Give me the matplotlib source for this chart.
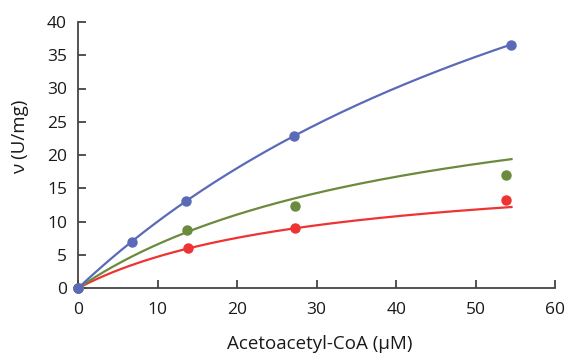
import numpy as np
import matplotlib
matplotlib.use("Agg")
import matplotlib.pyplot as plt

plt.rcParams['font.family'] = ['Open Sans', 'DejaVu Sans']

# measured points
blue_x = [0, 6.8, 13.6, 27.2, 54.4]
blue_y = [0, 7.0, 13.1, 22.9, 36.6]
green_x = [0, 13.7, 27.3, 53.8]
green_y = [0, 8.7, 12.3, 17.0]
red_x = [0, 13.8, 27.3, 53.8]
red_y = [0, 6.0, 9.0, 13.3]

# Michaelis-Menten fits (Vmax, Km)
blue_fit = (91.0, 80.9)
green_fit = (34.4, 42.2)
red_fit = (18.9, 30.0)
fit_xmax = 54.5

colors = {'blue': '#5a6ab8', 'green': '#6b8a3c', 'red': '#ee3333'}

fig = plt.figure(figsize=(5.66, 3.54), dpi=100)
ax = fig.add_axes([0.138, 0.186, 0.843, 0.752])

s = np.linspace(0, fit_xmax, 200)
for (vmax, km), (xs, ys), c in [(red_fit, (red_x, red_y), colors['red']),
                               (green_fit, (green_x, green_y), colors['green']),
                               (blue_fit, (blue_x, blue_y), colors['blue'])]:
    ax.plot(s, vmax * s / (km + s), color=c, lw=1.6, zorder=2)
    ax.plot(xs, ys, 'o', color=c, ms=6.5, zorder=3, clip_on=False)

ax.set_xlim(0, 60)
ax.set_ylim(0, 40)
ax.set_xticks(range(0, 61, 10))
ax.set_yticks(range(0, 41, 5))
for sp in ['top', 'right']:
    ax.spines[sp].set_visible(False)
for sp in ['left', 'bottom']:
    ax.spines[sp].set_color('#444444')
    ax.spines[sp].set_linewidth(1.3)
ax.tick_params(direction='in', length=6, width=1.3, color='#444444',
               labelsize=12.5, labelcolor='#1a1a1a')
ax.tick_params(axis='x', pad=10)
ax.tick_params(axis='y', pad=8)
ax.set_xlabel('Acetoacetyl-CoA (\u03bcM)', fontsize=13.5, color='#1a1a1a')
ax.set_ylabel('\u03bd (U/mg)', fontsize=13.5, color='#1a1a1a')
ax.xaxis.set_label_coords(0.506, -0.175)
ax.yaxis.set_label_coords(-0.122, 0.568)
ax.yaxis.label.set_va('center')
ax.xaxis.label.set_va('top')

fig.savefig('out.png', dpi=100)
